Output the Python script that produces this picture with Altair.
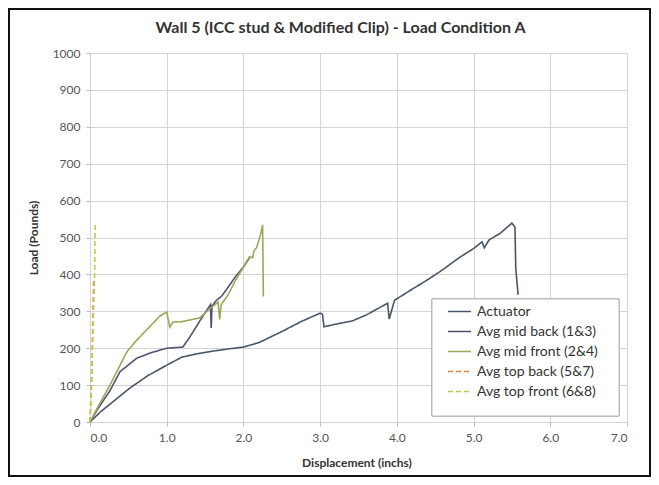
import altair as alt
import pandas as pd

series_names = ["Actuator", "Avg mid back (1&3)", "Avg mid front (2&4)",
                "Avg top back (5&7)", "Avg top front (6&8)"]
series_colors = ["#4a5668", "#5b4e6e", "#9aa85a", "#e0823a", "#c2c84e"]
series_dash = [[1, 0], [1, 0], [1, 0], [5, 3], [5, 3]]

act_x = [0, 0.15, 0.3, 0.52, 0.75, 1.0, 1.2, 1.4, 1.6, 1.8, 2.0, 2.2, 2.5, 2.75, 3.0,
         3.03, 3.05, 3.2, 3.42, 3.6, 3.88, 3.90, 3.97, 4.2, 4.42, 4.6, 4.81, 5.0, 5.11,
         5.14, 5.2, 5.35, 5.5, 5.54, 5.55, 5.58]
act_y = [0, 30, 55, 92, 125, 154, 176, 185, 192, 198, 203, 215, 245, 272, 295,
         292, 258, 265, 274, 290, 322, 279, 330, 360, 388, 413, 445, 470, 488,
         472, 493, 512, 539, 528, 417, 345]

mb_x = [0, 0.1, 0.26, 0.39, 0.61, 0.8, 1.0, 1.21, 1.3, 1.45, 1.57, 1.58, 1.59,
        1.65, 1.72, 1.8, 1.9, 2.0, 2.08]
mb_y = [0, 35, 85, 136, 173, 188, 200, 203, 230, 280, 318, 255, 315,
        330, 342, 365, 395, 420, 445]

mf_x = [0, 0.1, 0.26, 0.48, 0.61, 0.75, 0.91, 1.0, 1.04, 1.08, 1.2, 1.43, 1.55,
        1.67, 1.69, 1.71, 1.8, 1.9, 2.0, 2.08, 2.12, 2.14, 2.17, 2.22, 2.25, 2.26]
mf_y = [0, 40, 100, 190, 222, 252, 287, 298, 257, 271, 272, 282, 305,
        325, 278, 318, 345, 385, 420, 448, 445, 465, 472, 505, 534, 340]

tb_x = [0, 0.02, 0.03, 0.04, 0.045, 0.05]
tb_y = [0, 100, 200, 300, 360, 390]

tf_x = [0, 0.02, 0.04, 0.06, 0.065, 0.07]
tf_y = [0, 120, 260, 400, 500, 540]

rows = []
for name, xs, ys in zip(series_names,
                        [act_x, mb_x, mf_x, tb_x, tf_x],
                        [act_y, mb_y, mf_y, tb_y, tf_y]):
    for i, (x, y) in enumerate(zip(xs, ys)):
        rows.append({"series": name, "x": x, "y": y, "i": i})
df = pd.DataFrame(rows)

W, H = 537, 369
FONT = "Lato"

lines = alt.Chart(df).mark_line(strokeWidth=1.6).encode(
    x=alt.X("x:Q", scale=alt.Scale(domain=[0, 7], nice=False),
            axis=alt.Axis(title="Displacement (inchs)", values=[0, 1, 2, 3, 4, 5, 6, 7],
                          format=".1f", titleX=W / 2 - 2, titleY=40,
                          titleBaseline="middle")),
    y=alt.Y("y:Q", scale=alt.Scale(domain=[0, 1000], nice=False),
            axis=alt.Axis(title="Load (Pounds)", values=list(range(0, 1001, 100)),
                          format="d", titleX=-57, titleY=H / 2, titleAngle=270,
                          titleBaseline="middle", titleAlign="center")),
    color=alt.Color("series:N",
                    scale=alt.Scale(domain=series_names, range=series_colors),
                    legend=alt.Legend(title=None, orient="none", legendX=357, legendY=246)),
    strokeDash=alt.StrokeDash("series:N",
                              scale=alt.Scale(domain=series_names, range=series_dash),
                              legend=None),
    order="i:Q",
    detail="series:N",
)

# legend box (decoration behind the legend entries)
legend_box = alt.Chart(df).mark_rect(fill="white", stroke="#bbbbbb", strokeWidth=1).encode(
    x=alt.value(342), x2=alt.value(529), y=alt.value(246), y2=alt.value(363)
)

# outer figure frame
frame = alt.Chart(df).mark_rect(fill=None, stroke="#111111", strokeWidth=2).encode(
    x=alt.value(-81), x2=alt.value(560), y=alt.value(-44), y2=alt.value(423)
)

chart = alt.layer(lines, legend_box, frame).properties(
    width=W, height=H,
    autosize=alt.AutoSizeParams(type="none"),
    padding={"left": 82, "top": 45, "right": 24, "bottom": 55},
    title=alt.Title("Wall 5 (ICC stud & Modified Clip) - Load Condition A",
                    font=FONT, fontSize=16, fontWeight="bold", color="#333333",
                    anchor="middle", dx=-18, offset=14, dy=42),
).configure_view(stroke="#c8c8c8", strokeWidth=1).configure_axis(
    labelFont=FONT, labelFontSize=12, labelColor="#555555",
    titleFont=FONT, titleFontSize=12, titleFontWeight="bold", titleColor="#333333",
    gridColor="#d4d4d4", gridWidth=1, domain=False,
    tickColor="#bbbbbb", tickSize=4, labelPadding=6,
).configure_legend(
    labelFont=FONT, labelFontSize=14, labelColor="#333333",
    symbolType="stroke", symbolSize=529, symbolStrokeWidth=1.6,
    strokeColor="transparent", padding=0, rowPadding=0,
    labelLimit=300, labelOffset=5,
)

chart.save("out.html", embed_options={"renderer": "svg", "actions": False})
